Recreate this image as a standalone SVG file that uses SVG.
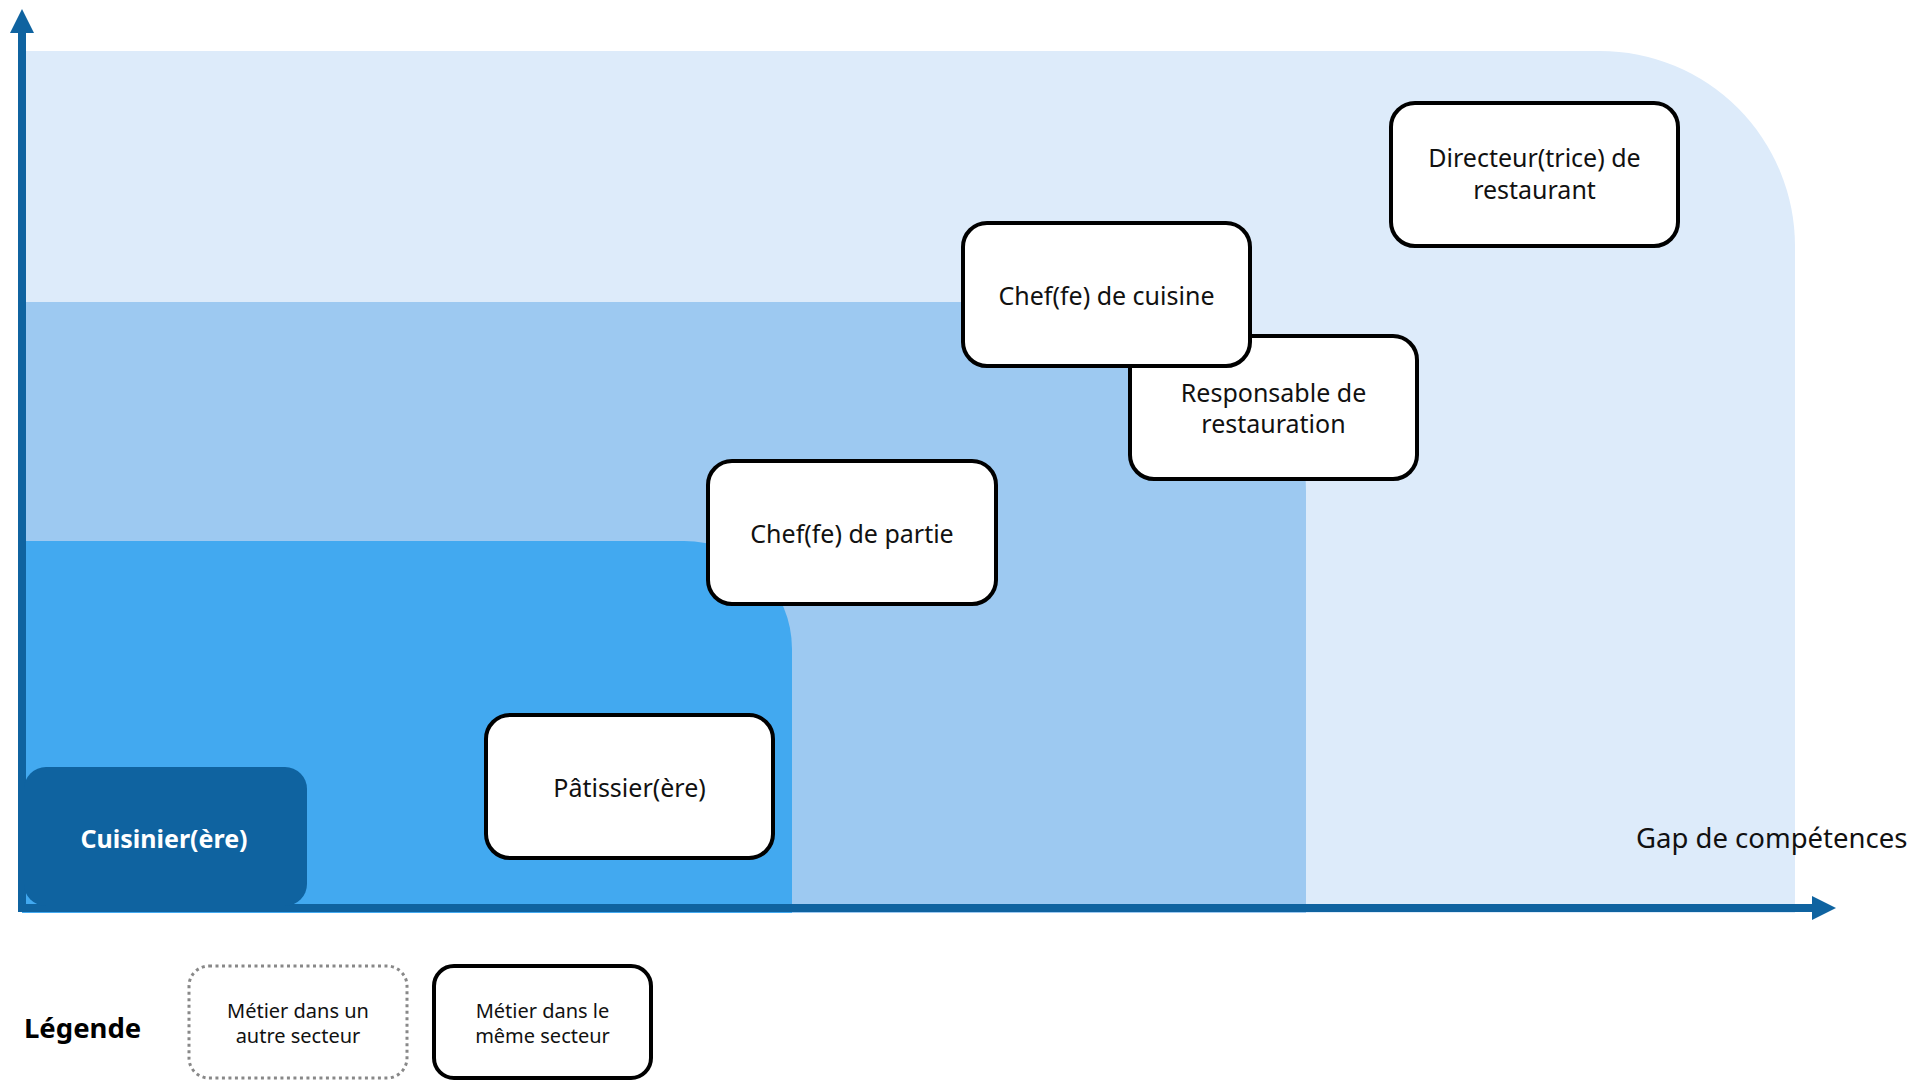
<svg xmlns="http://www.w3.org/2000/svg" width="1914" height="1081" viewBox="0 0 1914 1081">
<style>
.node rect.box{fill:#FFFFFF;stroke:#000000;stroke-width:4}
.lbl{font-family:"Noto Sans","Open Sans","Liberation Sans",sans-serif;font-size:25px;fill:#111111;text-anchor:middle}
.leg{font-family:"Noto Sans","Open Sans","Liberation Sans",sans-serif;font-size:20px;fill:#111111;text-anchor:middle}
.axis{stroke:#0F63A0;stroke-width:8;fill:none}
</style>
<defs>
<marker id="ah" viewBox="0 0 24 24" refX="0" refY="12" markerWidth="24" markerHeight="24" markerUnits="userSpaceOnUse" orient="auto">
<path d="M0,0 L24,12 L0,24 Z" fill="#0F63A0"/>
</marker>
</defs>
<g id="bands">
<path d="M22,51 H1600 A195,195 0 0 1 1795,246 V913 H22 Z" fill="#DDEBFA"/>
<path d="M22,302 H1116 A190,190 0 0 1 1306,492 V913 H22 Z" fill="#9DC9F1"/>
<path d="M22,541 H684 A108,108 0 0 1 792,649 V913 H22 Z" fill="#42A9F0"/>
</g>
<g id="connectors">
<line class="axis" x1="22" y1="912" x2="22" y2="33" marker-end="url(#ah)"/>
<line class="axis" x1="18" y1="908" x2="1812" y2="908" marker-end="url(#ah)"/>
</g>
<g id="node-cuisinier" class="node">
<rect x="24" y="767" width="283" height="139" rx="22" fill="#0F63A0"/>
<text x="164" y="848" font-family="'Noto Sans','Open Sans','Liberation Sans',sans-serif" font-size="25" font-weight="bold" fill="#FFFFFF" text-anchor="middle">Cuisinier(ère)</text>
</g>
<g id="node-patissier" class="node">
<rect class="box" x="486" y="715" width="287" height="143" rx="24"/>
<text class="lbl" x="629.5" y="797">Pâtissier(ère)</text>
</g>
<g id="node-chef-partie" class="node">
<rect class="box" x="708" y="461" width="288" height="143" rx="24"/>
<text class="lbl" x="852" y="543">Chef(fe) de partie</text>
</g>
<g id="node-responsable" class="node">
<rect class="box" x="1130" y="336" width="287" height="143" rx="24"/>
<text class="lbl" x="1273.5" y="402">Responsable de</text>
<text class="lbl" x="1273.5" y="433">restauration</text>
</g>
<g id="node-chef-cuisine" class="node">
<rect class="box" x="963" y="223" width="287" height="143" rx="24"/>
<text class="lbl" x="1106.5" y="305">Chef(fe) de cuisine</text>
</g>
<g id="node-directeur" class="node">
<rect class="box" x="1391" y="103" width="287" height="143" rx="24"/>
<text class="lbl" x="1534.5" y="167">Directeur(trice) de</text>
<text class="lbl" x="1534.5" y="199">restaurant</text>
</g>
<text id="x-label" x="1636" y="848" font-family="'Noto Sans','Open Sans','Liberation Sans',sans-serif" font-size="27.5" fill="#111111">Gap de compétences</text>
<g id="legend">
<text x="24" y="1038" font-family="'Noto Sans','Open Sans','Liberation Sans',sans-serif" font-size="27.5" font-weight="bold" fill="#000000">Légende</text>
<g id="legend-other">
<rect x="189" y="966" width="218" height="112" rx="20" fill="#FFFFFF" stroke="#888888" stroke-width="3" stroke-dasharray="3,3.5"/>
<text class="leg" x="298" y="1018">Métier dans un</text>
<text class="leg" x="298" y="1043">autre secteur</text>
</g>
<g id="legend-same">
<rect x="434" y="966" width="217" height="112" rx="20" fill="#FFFFFF" stroke="#000000" stroke-width="4"/>
<text class="leg" x="542.5" y="1018">Métier dans le</text>
<text class="leg" x="542.5" y="1043">même secteur</text>
</g>
</g>
</svg>
